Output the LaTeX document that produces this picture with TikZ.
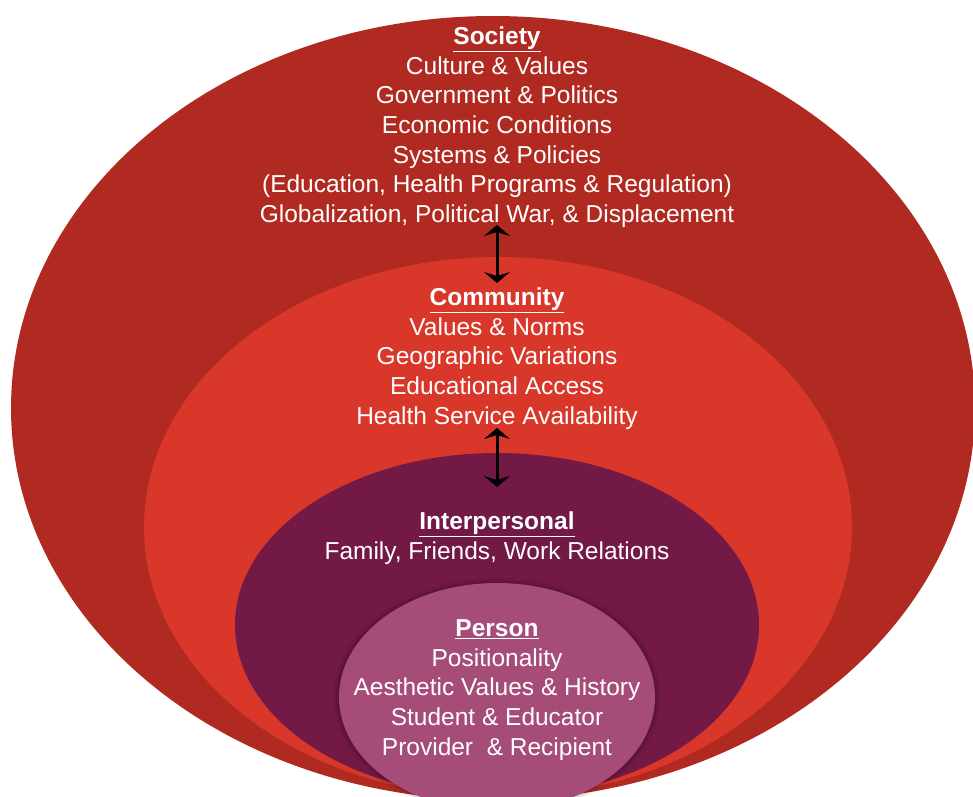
\documentclass[tikz,border=0pt]{standalone}
\usepackage{fontspec}
\setmainfont{Liberation Sans}
\usetikzlibrary{shapes.geometric}
\usetikzlibrary{arrows.meta}
\usetikzlibrary{shadows.blur}
\definecolor{societyRed}{RGB}{176,42,33}
\definecolor{communityRed}{RGB}{216,55,42}
\definecolor{interPurple}{RGB}{114,25,69}
\definecolor{personPink}{RGB}{166,76,121}
\tikzset{ring/.style = {ellipse, inner sep = 0, draw = none}}
\tikzset{ringtext/.style = {text = white, align = center, inner sep = 0,
                            font = \fontsize{24.5}{29.7}\selectfont}}
\tikzset{link/.style = {draw = black, line width = 3pt,
                        {Stealth[width = 26pt, length = 11pt, inset = 4pt]}-{Stealth[width = 26pt, length = 11pt, inset = 4pt]}}}
\newcommand{\ringtitle}[1]{\underline{\textbf{#1}}}

\begin{document}
\begin{tikzpicture}[x = 1pt, y = -1pt]
    \clip (0, 0) rectangle (973, 796);

    % nested rings
    \node [ring, fill = societyRed, minimum width = 964pt, minimum height = 784pt] (society) at (493, 408) {};
    \node [ring, fill = communityRed, minimum width = 708pt, minimum height = 540pt] (community) at (498, 527) {};
    \node [ring, fill = interPurple, minimum width = 524pt, minimum height = 344pt] (interpersonal) at (497, 625) {};
    \node [ring, fill = personPink, minimum width = 316pt, minimum height = 228pt,
           blur shadow = {shadow xshift = 0pt, shadow yshift = 0pt, shadow scale = 1.015,
                          shadow blur extra rounding = 2pt, shadow blur radius = 3pt, shadow opacity = 25}] (person) at (497, 697) {};

    % texts
    \node [ringtext, anchor = north] (societyText) at (497, 26.5) {\ringtitle{Society}\\
        Culture \& Values\\
        Government \& Politics\\
        Economic Conditions\\
        Systems \& Policies\\
        (Education, Health Programs \& Regulation)\\
        Globalization, Political War, \& Displacement};
    \node [ringtext, anchor = north] (communityText) at (497, 287.5) {\ringtitle{Community}\\
        Values \& Norms\\
        Geographic Variations\\
        Educational Access\\
        Health Service Availability};
    \node [ringtext, anchor = north] (interpersonalText) at (497, 511.5) {\ringtitle{Interpersonal}\\
        Family, Friends, Work Relations};
    \node [ringtext, anchor = north] (personText) at (497, 619.5) {\ringtitle{Person}\\
        Positionality\\
        Aesthetic Values \& History\\
        Student \& Educator\\
        Provider~~\& Recipient};

    % links between levels
    \coordinate (societyLink) at (497, 225);
    \coordinate (communityTop) at (497, 283);
    \coordinate (communityLink) at (497, 428);
    \coordinate (interpersonalTop) at (497, 487);
    \draw [link] (societyLink) -- (communityTop);
    \draw [link] (communityLink) -- (interpersonalTop);
\end{tikzpicture}
\end{document}
